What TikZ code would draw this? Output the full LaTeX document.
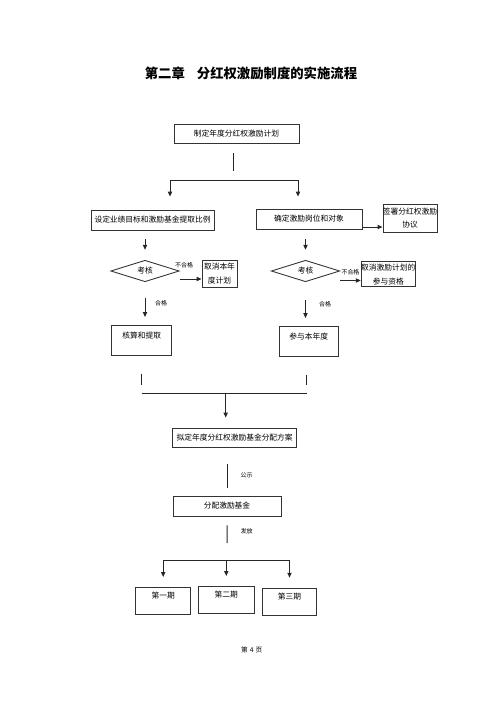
\documentclass[tikz,border=0pt]{standalone}
\usepackage{fontspec}
\setmainfont{Noto Sans CJK SC}
\usetikzlibrary{shapes.geometric, arrows.meta, positioning}

\begin{document}
\begin{tikzpicture}[
  x=0.02cm, y=-0.02cm,
  block/.style={rectangle, draw=black!80, line width=0.5pt, inner sep=0pt,
                align=center, font=\fontsize{4.4}{5}\selectfont},
  twoline/.style={font=\fontsize{4.4}{7.8}\selectfont},
  topbox/.style={anchor=north, text height=4pt, text depth=#1, inner ysep=3.5pt},
  check/.style={diamond, draw=black!80, line width=0.5pt, inner sep=0pt,
                minimum width=1.37cm, minimum height=0.43cm, shape aspect=3.2,
                font=\fontsize{4.4}{5}\selectfont},
  line/.style={draw=black!85, line width=0.55pt},
  arrow/.style={line, -{Triangle[length=2.8pt, width=2.4pt]}},
  note/.style={font=\fontsize{3.4}{4}\selectfont, inner sep=0.5pt},
]
  \fill[white] (0,0) rectangle (500,707);
  \useasboundingbox (0,0) rectangle (500,707);

  \node[font=\bfseries\fontsize{7.6}{8}\selectfont] (title) at (251,73)
    {第二章\hspace{0.9em}分红权激励制度的实施流程};

  % plan and the two branches
  \node[block, minimum width=2.5cm, minimum height=0.38cm] (plan) at (236.5,133.5)
    {制定年度分红权激励计划};
  \node[block, minimum width=2.46cm, minimum height=0.4cm] (target) at (152.5,220)
    {设定业绩目标和激励基金提取比例};
  \node[block, minimum width=2.12cm, minimum height=0.4cm] (post) at (309,219)
    {确定激励岗位和对象};
  \node[block, twoline, minimum width=1.04cm, minimum height=0.56cm] (sign) at (410,218)
    {签署分红权激励\\协议};

  \coordinate (fork)  at (233,180.7);
  \coordinate (forkL) at (170,180.7);
  \coordinate (forkR) at (298,180.7);
  \draw[line, shorten <=0.2cm, shorten >=0.2cm] (fork |- plan.south) -- (fork);
  \draw[{Triangle[length=2.8pt, width=2.4pt]}-{Triangle[length=2.8pt, width=2.4pt]},
        line, shorten <=0.26cm, shorten >=0.24cm]
    (forkL |- target.north) -- (forkL) -- (forkR) -- (forkR |- post.north);
  \draw[arrow] ([yshift=-0.16cm]post.east) -- ([yshift=-0.16cm]post.east -| sign.west);

  % left column
  \node[check] (check1) at (145,271) {考核};
  \node[block, twoline, minimum width=0.7cm, minimum height=0.54cm] (cancel1) at (219.5,273.5)
    {取消本年\\度计划};
  \node[block, topbox=6pt, minimum width=1.2cm] (calc) at (141.7,325) {核算和提取};

  \draw[arrow, shorten <=0.18cm, shorten >=0.2cm] (check1.north |- target.south) -- (check1.north);
  \draw[arrow] ([yshift=-0.16cm]check1.east) -- ([yshift=-0.16cm]check1.east -| cancel1.west)
    node[note, pos=0.2, above=5.5pt] {不合格};
  \draw[arrow, shorten <=0.32cm, shorten >=0.16cm] (check1.south) -- (check1.south |- calc.north)
    node[note, midway, right=5pt] {合格};

  % right column
  \node[check] (check2) at (305.5,271) {考核};
  \node[block, twoline, minimum width=1.07cm, minimum height=0.5cm] (cancel2) at (388.3,274.2)
    {取消激励计划的\\参与资格};
  \node[block, topbox=6pt, minimum width=1.19cm] (join) at (308.7,326) {参与本年度};

  \draw[arrow, shorten <=0.2cm, shorten >=0.2cm] (check2.north |- post.south) -- (check2.north);
  \draw[arrow] ([yshift=-0.19cm]check2.east) -- ([yshift=-0.19cm]check2.east -| cancel2.west)
    node[note, midway, above=2.5pt] {不合格};
  \draw[arrow, shorten <=0.36cm, shorten >=0.16cm] (check2.south) -- (check2.south |- join.north)
    node[note, midway, right=7pt] {合格};

  % merge
  \coordinate (mergeL) at (141.7,393.3);
  \coordinate (mergeR) at (306.7,393.3);
  \coordinate (merge)  at (225.7,393.3);
  \node[block, minimum width=2.48cm, minimum height=0.38cm] (scheme) at (234.7,437.5)
    {拟定年度分红权激励基金分配方案};
  \draw[line, shorten <=0.36cm, shorten >=0.16cm] (calc.south) -- (calc.south |- mergeL);
  \draw[line, shorten <=0.36cm, shorten >=0.16cm] (mergeR |- join.south) -- (mergeR);
  \draw[line] (mergeL) -- (mergeR);
  \draw[arrow, shorten >=0.2cm] (merge) -- (merge |- scheme.north);

  % fund
  \node[block, minimum width=2.16cm, minimum height=0.4cm] (fund) at (227,506) {分配激励基金};
  \draw[line, shorten <=0.34cm, shorten >=0.16cm] (fund.north |- scheme.south) -- (fund.north)
    node[note, pos=0.58, right=7pt] {公示};

  % three periods
  \coordinate (split) at (227.3,560);
  \node[block, topbox=6.3pt, minimum width=1.1cm, inner ysep=2.5pt] (p1) at (163.2,587) {第一期};
  \node[block, topbox=6.3pt, minimum width=1.12cm, inner ysep=2.5pt] (p2) at (226.3,586) {第二期};
  \node[block, topbox=6.3pt, minimum width=1.09cm, inner ysep=2.5pt] (p3) at (289.5,587.7) {第三期};
  \draw[line, shorten <=0.18cm, shorten >=0.34cm] (fund.south) -- (split)
    node[note, pos=0.35, right=7pt] {发放};
  \draw[line] (split -| p1.north) -- (split -| p3.north);
  \foreach \p in {p1,p2,p3}
    \draw[arrow, shorten >=0.2cm] (split -| \p.north) -- (\p.north);

  \node[note, font=\fontsize{3.8}{4}\selectfont] (page) at (251.7,650)
    {第\hspace{0.3em}4\hspace{0.3em}页};
\end{tikzpicture}
\end{document}
